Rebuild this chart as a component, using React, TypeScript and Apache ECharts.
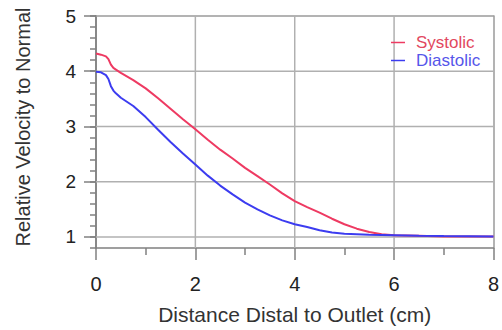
import React, { useEffect, useRef } from "react";
import * as echarts from "echarts";

// Distance distal to the outlet (cm)
const distance = [
  0, 0.1, 0.2, 0.25, 0.3, 0.35, 0.4, 0.5, 0.75, 1.0, 1.25, 1.5, 1.75, 2.0, 2.25, 2.5,
  2.75, 3.0, 3.25, 3.5, 3.75, 4.0, 4.25, 4.5, 4.75, 5.0, 5.25, 5.5, 5.75, 6.0, 6.5, 7.0, 8.0,
];

// Velocity relative to normal
const systolic = [
  4.32, 4.30, 4.27, 4.22, 4.12, 4.06, 4.03, 3.97, 3.84, 3.69, 3.51, 3.32, 3.13, 2.95, 2.76, 2.58,
  2.42, 2.25, 2.1, 1.95, 1.79, 1.65, 1.54, 1.44, 1.33, 1.23, 1.15, 1.09, 1.05, 1.03, 1.02, 1.01, 1.01,
];
const diastolic = [
  3.99, 3.98, 3.93, 3.86, 3.73, 3.65, 3.6, 3.52, 3.37, 3.17, 2.94, 2.72, 2.51, 2.31, 2.11, 1.93,
  1.77, 1.62, 1.5, 1.39, 1.3, 1.23, 1.18, 1.12, 1.08, 1.06, 1.05, 1.04, 1.035, 1.03, 1.02, 1.015, 1.01,
];

const X_MIN = 0;
const X_MAX = 8;
const Y_MIN = 0.8;
const Y_MAX = 5;
const yMajorTicks = [1, 2, 3, 4, 5];
const xGridValues = [2, 4, 6];
const yGridValues = [1, 2, 3, 4];

const FONT = "'Liberation Sans', Arial, Helvetica, sans-serif";
const AXIS_GRAY = "#808080";
const FRAME_GRAY = "#9a9a9a";
const GRID_GRAY = "#b0b0b0";

export default function App() {
  const ref = useRef<HTMLDivElement>(null);

  useEffect(() => {
    if (!ref.current) return;
    const chart = echarts.init(ref.current, undefined, { renderer: "svg" });
    const pairs = (ys: number[]) => distance.map((x, i) => [x, ys[i]]);

    // grid lines: a custom series drawing one line per value through the axes
    const gridItems = [
      ...xGridValues.map((v) => ["x", v]),
      ...yGridValues.map((v) => ["y", v]),
    ];
    const gridSeries = {
      id: "gridlines",
      type: "custom",
      xAxisIndex: 0,
      yAxisIndex: 0,
      silent: true,
      z: 1,
      data: gridItems.map((_, i) => [i]),
      renderItem: (params: any, api: any) => {
        const [dir, v] = gridItems[params.dataIndex] as [string, number];
        const a = dir === "x" ? api.coord([v, Y_MIN]) : api.coord([X_MIN, v]);
        const b = dir === "x" ? api.coord([v, Y_MAX]) : api.coord([X_MAX, v]);
        return {
          type: "line",
          shape: { x1: a[0], y1: a[1], x2: b[0], y2: b[1] },
          style: { stroke: GRID_GRAY, lineWidth: 1.5, fill: "none", opacity: 1 },
        };
      },
    };

    const frameAxis = {
      type: "value",
      axisLine: { show: true, onZero: false, lineStyle: { color: FRAME_GRAY, width: 1.5 } },
      axisTick: { show: false },
      axisLabel: { show: false },
      splitLine: { show: false },
    };

    chart.setOption({
      animation: false,
      backgroundColor: "#ffffff",
      grid: { left: 96, right: 3, top: 16, bottom: 82 },
      legend: {
        orient: "vertical",
        left: 386,
        top: 29,
        itemWidth: 14,
        itemHeight: 1.5,
        itemGap: 1,
        icon: "rect",
        textStyle: { fontFamily: FONT, fontSize: 17, padding: [0, 0, 0, 6] },
        data: [
          { name: "Systolic", textStyle: { color: "#e2485e" } },
          { name: "Diastolic", textStyle: { color: "#5656ea" } },
        ],
      },
      graphic: [
        {
          type: "text",
          x: 23,
          y: 127,
          rotation: Math.PI / 2,
          style: {
            text: "Relative Velocity to Normal",
            fontFamily: FONT,
            fontSize: 20,
            fill: "#333",
            align: "center",
            verticalAlign: "middle",
          },
        },
      ],
      xAxis: [
        {
          type: "value",
          position: "bottom",
          min: X_MIN,
          max: X_MAX,
          interval: 2,
          name: "Distance Distal to Outlet (cm)",
          nameLocation: "middle",
          nameGap: 56,
          nameTextStyle: { fontFamily: FONT, fontSize: 21, color: "#333" },
          axisLine: { show: true, onZero: false, lineStyle: { color: AXIS_GRAY, width: 1.5 } },
          axisTick: { show: true, length: 12, lineStyle: { color: AXIS_GRAY, width: 1.5 } },
          minorTick: { show: true, splitNumber: 2, length: 7, lineStyle: { color: AXIS_GRAY, width: 1.5 } },
          splitLine: { show: false },
          axisLabel: { fontFamily: FONT, fontSize: 20, color: "#222", margin: 26 },
        },
        { ...frameAxis, min: X_MIN, max: X_MAX, position: "top" },
      ],
      yAxis: [
        {
          type: "value",
          min: Y_MIN,
          max: Y_MAX,
          position: "left",
          axisLine: { show: true, onZero: false, lineStyle: { color: AXIS_GRAY, width: 1.5 } },
          axisTick: { show: true, length: 12, customValues: yMajorTicks, lineStyle: { color: AXIS_GRAY, width: 1.5 } },
          axisLabel: { customValues: yMajorTicks, fontFamily: FONT, fontSize: 19, color: "#222", margin: 20 },
          splitLine: { show: false },
        },
        {
          type: "value",
          min: Y_MIN,
          max: Y_MAX,
          interval: 0.2,
          position: "left",
          axisLine: { show: true, onZero: false, lineStyle: { color: AXIS_GRAY, width: 1.5 } },
          axisTick: { show: true, length: 6, lineStyle: { color: AXIS_GRAY, width: 1.5 } },
          axisLabel: { show: false },
          splitLine: { show: false },
        },
        { ...frameAxis, min: Y_MIN, max: Y_MAX, position: "right" },
      ],
      series: [
        gridSeries,
        {
          name: "Systolic",
          type: "line",
          xAxisIndex: 0,
          yAxisIndex: 0,
          data: pairs(systolic),
          showSymbol: false,
          color: "#ee3a62",
          lineStyle: { width: 2, color: "#ee3a62" },
          z: 3,
        },
        {
          name: "Diastolic",
          type: "line",
          xAxisIndex: 0,
          yAxisIndex: 0,
          data: pairs(diastolic),
          showSymbol: false,
          color: "#3c3cf0",
          lineStyle: { width: 2, color: "#3c3cf0" },
          z: 4,
        },
      ],
    });

    return () => chart.dispose();
  }, []);

  return (
    <div
      ref={ref}
      style={{ position: "fixed", left: 0, top: 0, width: 502, height: 330 }}
    />
  );
}
